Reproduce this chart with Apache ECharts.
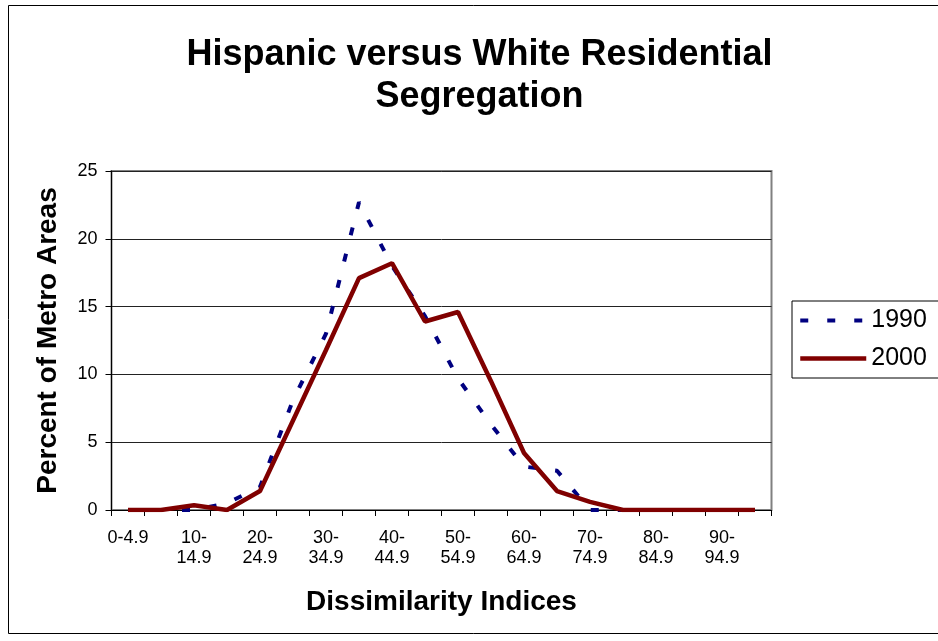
<!DOCTYPE html>
<html>
<head>
<meta charset="utf-8">
<script src="https://cdn.jsdelivr.net/npm/echarts@6/dist/echarts.min.js"></script>
<style>
  html, body { margin: 0; padding: 0; background: #fff; }
  #chart { width: 938px; height: 641px; }
</style>
</head>
<body>
<div id="chart"></div>
<script>
// Dissimilarity index bins (percent of metro areas in each bin)
const categories = [
  '0-4.9', '5-9.9', '10-14.9', '15-19.9', '20-24.9', '25-29.9', '30-34.9',
  '35-39.9', '40-44.9', '45-49.9', '50-54.9', '55-59.9', '60-64.9',
  '65-69.9', '70-74.9', '75-79.9', '80-84.9', '85-89.9', '90-94.9', '95-99.9'
];
const values1990 = [0, 0, 0, 0.5, 1.7, 8.1, 13.0, 22.7, 18.0, 14.3, 9.7, 6.3, 3.2, 2.9, 0, 0, 0, 0, 0, 0];
const values2000 = [0, 0, 0.35, 0, 1.4, 6.6, 11.8, 17.1, 18.2, 13.9, 14.6, 9.5, 4.2, 1.4, 0.6, 0, 0, 0, 0, 0];
const yTicks = { min: 0, max: 25, interval: 5 };

const FONT = '"Liberation Sans", Arial, sans-serif';
const style1990 = { color: '#000080', width: 4, type: [8, 19], cap: 'butt' };
const style2000 = { color: '#800000', width: 4.5, type: 'solid' };

const chart = echarts.init(document.getElementById('chart'), null, { renderer: 'canvas' });

chart.setOption({
  backgroundColor: '#fff',
  animation: false,
  textStyle: { fontFamily: FONT, color: '#000' },
  title: {
    text: 'Hispanic versus White Residential\nSegregation',
    left: 474.5,
    top: 29,
    textAlign: 'center',
    textStyle: { fontFamily: FONT, fontSize: 36, fontWeight: 'bold', lineHeight: 42, color: '#000' }
  },
  graphic: [{
    type: 'rect',
    silent: true,
    shape: { x: 8.5, y: 5.5, width: 940, height: 628 },
    style: { fill: null, stroke: '#000', lineWidth: 1 },
    z: -10
  }],
  legend: {
    orient: 'vertical',
    left: 792,
    top: 301,
    padding: [7, 14, 7, 6],
    itemGap: 13,
    itemWidth: 66,
    itemHeight: 26,
    borderColor: '#000',
    borderWidth: 1,
    backgroundColor: '#fff',
    itemStyle: { opacity: 0 },
    textStyle: { fontFamily: FONT, fontSize: 25, color: '#000' },
    data: [
      { name: '1990', lineStyle: style1990, itemStyle: { opacity: 0 } },
      { name: '2000', lineStyle: style2000, itemStyle: { opacity: 0 } }
    ]
  },
  grid: {
    left: 111.5,
    right: 166.5,
    top: 171,
    bottom: 131,
    show: true,
    borderColor: '#808080',
    borderWidth: 2,
    backgroundColor: '#fff'
  },
  xAxis: {
    type: 'category',
    data: categories,
    boundaryGap: true,
    name: 'Dissimilarity Indices',
    nameLocation: 'middle',
    nameGap: 78,
    nameTextStyle: { fontFamily: FONT, fontSize: 28, fontWeight: 'bold', color: '#000' },
    axisLine: { show: true, lineStyle: { color: '#000', width: 1 } },
    axisTick: { show: true, interval: 0, length: 6, lineStyle: { color: '#000' } },
    axisLabel: {
      interval: 1,
      margin: 18,
      fontFamily: FONT,
      fontSize: 18,
      lineHeight: 20,
      color: '#000',
      formatter: v => (v.length > 5 ? v.replace('-', '-\n') : v)
    },
    splitLine: { show: false }
  },
  yAxis: {
    type: 'value',
    min: yTicks.min,
    max: yTicks.max,
    interval: yTicks.interval,
    name: 'Percent of Metro Areas',
    nameLocation: 'middle',
    nameRotate: 90,
    nameGap: 49,
    nameTextStyle: { fontFamily: FONT, fontSize: 28, fontWeight: 'bold', color: '#000' },
    axisLine: { show: true, lineStyle: { color: '#000', width: 1 } },
    axisTick: { show: true, length: 6, lineStyle: { color: '#000' } },
    axisLabel: { margin: 14, fontFamily: FONT, fontSize: 18, color: '#000' },
    splitLine: { show: true, lineStyle: { color: '#222', width: 1 } }
  },
  series: [
    {
      name: '1990',
      type: 'line',
      data: values1990,
      symbol: 'none',
      color: '#000080',
      lineStyle: style1990,
      z: 2
    },
    {
      name: '2000',
      type: 'line',
      data: values2000,
      symbol: 'none',
      color: '#800000',
      lineStyle: style2000,
      z: 3
    }
  ]
});
</script>
</body>
</html>
